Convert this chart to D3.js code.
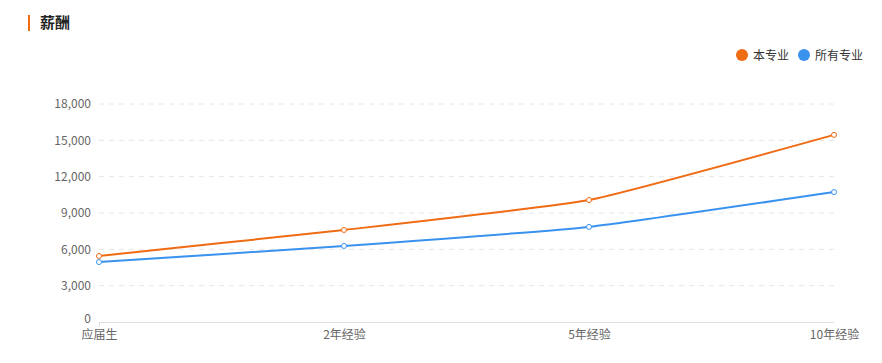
<!DOCTYPE html>
<html>
<head>
<meta charset="utf-8">
<script src="https://cdn.jsdelivr.net/npm/d3@7"></script>
<style>
  body { margin: 0; background: #fff; }
  svg { display: block; font-family: "Noto Sans CJK SC", "Noto Sans", sans-serif; }
</style>
</head>
<body>
<div id="chart"></div>
<script>
var width = 882;
var height = 363;

// chart data
var categories = ["应届生", "2年经验", "5年经验", "10年经验"];
var seriesNames = ["本专业", "所有专业"];
var majorValues = [5450, 7600, 10070, 15450];
var allValues = [4950, 6280, 7850, 10730];
var yTicks = [0, 3000, 6000, 9000, 12000, 15000, 18000];
var colors = ["#ef6b14", "#3a92ef"];

var svg = d3.select("#chart")
            .append("svg")
            .attr("width", width)
            .attr("height", height);

// title with the little orange bar
svg.append("rect")
   .attr("x", 28)
   .attr("y", 15)
   .attr("width", 2)
   .attr("height", 16)
   .attr("fill", "#ef6b14");
svg.append("text")
   .attr("x", 40)
   .attr("y", 28)
   .attr("font-size", 15)
   .attr("font-weight", "bold")
   .attr("fill", "#222")
   .text("薪酬");

var x = d3.scalePoint().domain(categories).range([99, 834]);
var y = d3.scaleLinear().domain([0, 18000]).range([322, 104]);

// grid lines
svg.append("g")
   .selectAll("line")
   .data(yTicks.slice(1))
   .enter()
   .append("line")
   .attr("x1", 99)
   .attr("x2", 834)
   .attr("y1", function(d){ return y(d); })
   .attr("y2", function(d){ return y(d); })
   .attr("stroke", "#e6e6e6")
   .attr("stroke-dasharray", "5,5");

// y axis labels, no line
var yAxis = svg.append("g")
   .attr("transform", "translate(99,0)")
   .call(d3.axisLeft(y).tickValues(yTicks).tickSize(0).tickPadding(8).tickFormat(d3.format(",")));
yAxis.select(".domain").remove();
yAxis.selectAll("text").attr("font-size", 12).attr("fill", "#666").attr("font-family", "\"Noto Sans CJK SC\", sans-serif");
// nudge the zero label up so it clears the category label
yAxis.selectAll(".tick").filter(function(d){ return d === 0; }).select("text").attr("dy", "0.02em");

// x axis
var xAxis = svg.append("g")
   .attr("transform", "translate(0,322)")
   .call(d3.axisBottom(x).tickSize(0).tickPadding(8));
xAxis.select(".domain").attr("stroke", "#e0e0e0").attr("d", "M99,0.5H834");
xAxis.selectAll("text").attr("font-size", 12).attr("fill", "#666").attr("font-family", "\"Noto Sans CJK SC\", sans-serif");
svg.append("line")
   .attr("x1", 99.5).attr("x2", 99.5)
   .attr("y1", 322).attr("y2", 327)
   .attr("stroke", "#e0e0e0");

var line = d3.line()
             .x(function(d, i){ return x(categories[i]); })
             .y(function(d){ return y(d); })
             .curve(d3.curveCardinal.tension(0.6));

[majorValues, allValues].forEach(function(vals, s){
  svg.append("path")
     .datum(vals)
     .attr("d", line)
     .attr("fill", "none")
     .attr("stroke", colors[s])
     .attr("stroke-width", 2);

  svg.append("g")
     .selectAll("circle")
     .data(vals)
     .enter()
     .append("circle")
     .attr("cx", function(d, i){ return x(categories[i]); })
     .attr("cy", function(d){ return y(d); })
     .attr("r", 2.5)
     .attr("fill", "#fff")
     .attr("stroke", colors[s])
     .attr("stroke-width", 1);
});

// legend
var legendX = [742, 804];
seriesNames.forEach(function(name, i){
  svg.append("circle")
     .attr("cx", legendX[i])
     .attr("cy", 55)
     .attr("r", 6)
     .attr("fill", colors[i]);
  svg.append("text")
     .attr("x", legendX[i] + 11)
     .attr("y", 59.5)
     .attr("font-size", 12)
     .attr("fill", "#333")
     .text(name);
});
</script>
</body>
</html>
